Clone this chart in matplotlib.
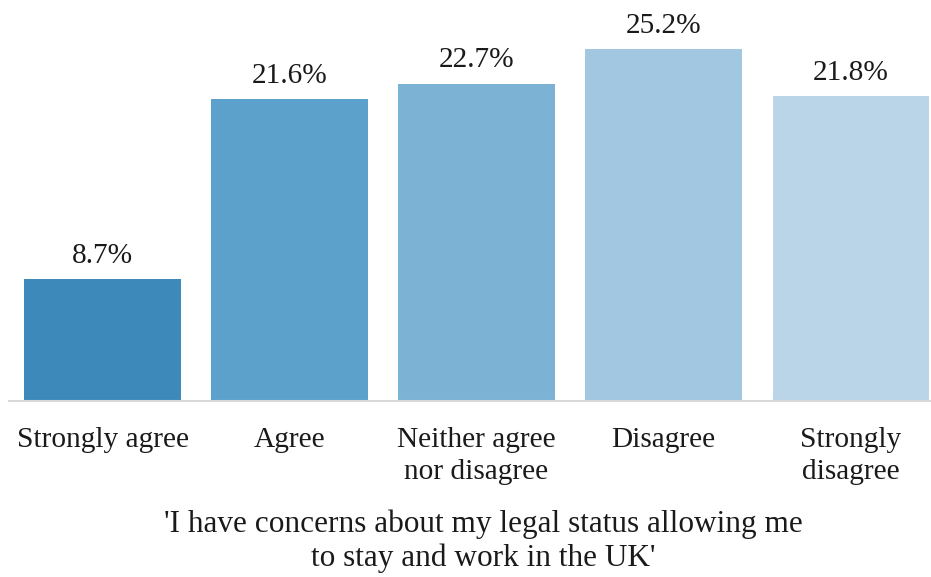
import matplotlib
matplotlib.use("Agg")
import matplotlib.pyplot as plt

categories = ["Strongly agree", "Agree", "Neither agree\nnor disagree", "Disagree", "Strongly\ndisagree"]
values = [8.7, 21.6, 22.7, 25.2, 21.8]
labels = ["8.7%", "21.6%", "22.7%", "25.2%", "21.8%"]
colors = ["#3d8aba", "#5ba1cb", "#7cb3d5", "#a1c7e1", "#bad5e8"]
title = "'I have concerns about my legal status allowing me\nto stay and work in the UK'"

plt.rcParams['font.family'] = ['Liberation Serif', 'DejaVu Serif']

FS = 21.2
W, H = 931, 577
fig = plt.figure(figsize=(W/100, H/100), dpi=100)
ax = fig.add_axes([9/W, (H-401)/H, (W-9)/W, 401/H])

x = list(range(len(categories)))
ax.bar(x, values, width=0.835, color=colors)
for xi, v, lab in zip(x, values, labels):
    ax.annotate(lab, (xi, v), xytext=(0, 7.5), textcoords="offset points",
                ha="center", va="bottom", fontsize=FS, color="#1a1a1a")

ax.set_xlim(-0.5, 4.43)
ax.set_ylim(0, 401/13.97)
ax.set_xticks(x)
ax.set_xticklabels(categories, fontsize=FS, color="#1a1a1a", linespacing=1.33)
ax.tick_params(axis="x", length=0, pad=18.5)
ax.set_yticks([])
for s in ["top", "right", "left"]:
    ax.spines[s].set_visible(False)
ax.spines["bottom"].set_color("#d9d9d9")
ax.spines["bottom"].set_linewidth(1.5)

fig.text(483/W, 1 - 541.5/H, title, ha="center", va="center", fontsize=22.5,
         color="#1a1a1a", linespacing=1.2)

fig.savefig("out.png", dpi=100)
